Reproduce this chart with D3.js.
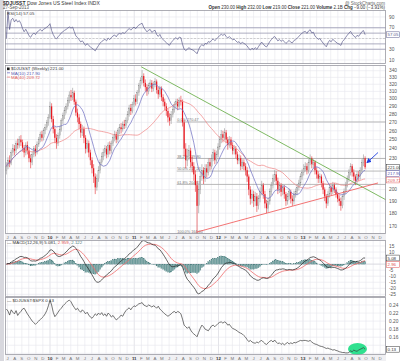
<!DOCTYPE html>
<html><head><meta charset="utf-8">
<script src="https://cdn.jsdelivr.net/npm/d3@7"></script>
<style>
body{margin:0;background:#fff}
svg{display:block;font-family:"Liberation Sans",Arial,sans-serif}
</style>
</head><body>
<svg id="c" width="400" height="361"></svg>
<script>
// ---------- DATA (weekly, Friday dates starting 2009-06-26) ----------
const startDate = "2009-06-26";
const closes = [222,228,225,236,240,238,246,244,250,247,
241,236,244,238,230,226,234,240,236,245,
250,256,252,260,264,270,276,290,274,262,
252,246,255,262,272,278,285,290,298,305,
302,308,296,282,276,268,258,262,252,240,
246,236,228,220,212,202,210,218,226,232,
236,240,234,244,238,246,252,256,250,260,
264,262,268,266,272,280,288,284,292,300,
296,308,318,325,332,322,316,310,318,322,
314,320,324,312,306,314,302,296,290,284,
276,272,280,286,292,296,290,298,296,270,
240,228,232,238,226,222,214,204,186,200,
212,218,210,220,216,226,222,230,236,228,
234,242,250,256,252,258,250,244,250,244,
238,240,234,228,230,222,226,222,218,212,
200,192,196,190,194,186,192,198,204,196,
188,184,190,198,204,210,214,208,200,204,
198,202,196,190,194,198,192,190,196,198,
202,206,212,216,220,222,218,226,230,224,
226,218,214,210,212,206,200,194,188,196,
202,198,204,200,196,192,190,186,194,198,
204,210,216,222,216,212,208,214,212,218,
226,230,221];
const opens = [218,222,228,225,236,240,238,246,244,250,
247,241,236,244,238,230,226,234,240,236,
245,250,256,252,260,264,270,276,290,274,
262,252,246,255,262,272,278,285,290,298,
305,302,308,296,282,276,268,258,262,252,
240,246,236,228,220,212,202,210,218,226,
232,236,240,234,244,238,246,252,256,250,
260,264,262,268,266,272,280,288,284,292,
300,296,308,318,325,332,322,316,310,318,
322,314,320,324,312,306,314,302,296,290,
284,276,272,280,286,292,296,290,298,296,
270,240,228,232,238,226,222,214,204,186,
200,212,218,210,220,216,226,222,230,236,
228,234,242,250,256,252,258,250,244,250,
244,238,240,234,228,230,222,226,222,218,
212,200,192,196,190,194,186,192,198,204,
196,188,184,190,198,204,210,214,208,200,
204,198,202,196,190,194,198,192,190,196,
198,202,206,212,216,220,222,218,226,230,
224,226,218,214,210,212,206,200,194,188,
196,202,198,204,200,196,192,190,186,194,
198,204,210,216,222,216,212,208,214,212,
218,226,230];
const highs = [226,231,233,239,245,244,249,251,254,255,
250,244,247,248,241,234,237,243,244,248,
253,259,260,263,268,273,280,296,294,278,
265,256,258,266,275,282,289,294,302,310,
312,315,311,299,287,280,271,267,265,255,
250,249,239,231,224,215,214,222,229,236,
240,244,243,247,248,249,255,260,259,263,
268,269,271,273,276,284,292,293,296,305,
306,312,322,330,341,336,327,320,322,327,
326,324,329,327,316,318,317,306,300,294,
287,281,284,290,296,300,300,302,304,299,
273,246,240,244,241,232,226,218,208,204,
216,224,221,224,224,230,230,234,240,239,
238,246,254,261,260,263,261,253,254,253,
247,244,243,237,234,233,229,229,225,221,
214,203,200,199,198,197,195,202,208,206,
199,191,193,201,207,214,218,217,211,207,
206,205,204,198,197,201,200,195,199,201,
205,209,215,219,224,226,225,229,234,232,
229,228,221,217,215,214,208,202,196,199,
205,204,207,206,202,198,195,193,196,201,
207,213,219,225,224,219,214,217,217,221,
229,234,232];
const lows = [214,219,221,223,232,233,235,240,241,243,
237,231,233,234,226,220,223,231,232,234,
242,247,248,249,256,261,266,274,270,257,
246,240,243,251,259,268,274,281,286,294,
297,298,292,278,270,262,252,254,246,235,
236,231,223,215,206,196,199,207,215,223,
228,232,230,231,234,235,243,248,246,247,
256,257,259,262,263,269,277,279,281,289,
291,293,304,314,321,317,310,304,306,314,
309,310,316,307,300,302,297,290,285,278,
270,266,268,276,282,288,285,287,291,265,
232,220,222,228,221,216,208,198,164,180,
196,208,205,207,211,213,218,219,227,224,
225,231,239,246,247,249,246,239,241,240,
234,234,230,224,224,218,219,218,213,207,
195,187,188,185,186,181,183,189,195,192,
184,180,181,187,195,201,207,204,196,197,
194,195,192,186,187,191,188,186,187,193,
195,199,203,209,213,217,214,215,223,220,
220,214,210,206,206,202,196,190,184,186,
193,195,196,197,193,189,186,182,184,191,
196,202,207,213,212,208,204,205,208,209,
215,222,219];
// $DJUSST:$SPX ratio, weekly
const ratio = [0.23,0.225,0.215,0.228,0.222,0.218,0.226,0.214,0.22,
0.224,0.23,0.232,
0.225,0.218,0.212,0.206,0.2,0.196,0.192,
0.196,0.2,0.204,0.208,
0.212,0.218,0.226,0.238,0.252,
0.24,0.222,0.211,
0.216,0.222,0.228,0.232,0.238,
0.242,0.246,0.25,0.252,0.248,
0.24,0.234,0.228,0.232,0.226,0.222,0.228,0.224,0.218,0.222,0.215,0.21,
0.207,0.212,
0.218,0.214,0.22,0.216,0.221,0.214,0.218,0.212,0.22,0.216,0.21,0.214,0.208,
0.203,0.206,0.21,
0.215,0.212,0.22,0.226,0.23,0.233,
0.228,0.234,0.238,0.236,0.24,0.243,0.244,0.246,0.24,0.238,
0.236,0.24,0.238,0.235,0.238,0.236,0.232,0.237,0.23,0.226,
0.222,0.218,0.215,0.212,
0.215,0.218,0.222,0.224,0.22,0.224,
0.222,0.218,0.205,0.19,0.186,0.182,
0.186,0.178,0.172,0.168,0.165,0.161,
0.172,0.182,0.19,0.186,0.18,0.178,
0.176,0.182,0.188,0.19,0.186,0.19,
0.194,0.197,0.198,0.195,0.198,0.196,0.19,
0.192,0.186,0.182,0.18,0.178,0.175,0.172,0.17,0.168,
0.164,0.16,0.154,0.149,0.152,0.148,
0.146,0.145,0.148,0.146,0.15,0.152,
0.148,0.144,0.142,0.146,0.15,0.152,0.148,0.153,0.148,0.144,0.146,0.142,0.145,0.141,0.144,0.147,0.143,0.146,0.144,0.147,0.146,0.148,
0.15,0.152,0.151,0.152,0.152,0.151,0.15,0.152,0.148,0.145,
0.143,0.142,0.14,0.138,0.137,0.136,0.134,0.132,0.133,0.131,0.13,0.128,0.129,0.127,0.126,0.124,0.123,0.122,0.122,0.121,
0.121,0.122,0.126,0.124,0.128,0.126,0.125,0.128,0.13,0.132,0.134,0.13];

const monthLetters = ["J","F","M","A","M","J","J","A","S","O","N","D"];
const priceTicks = [170,180,190,200,210,220,230,240,250,260,270,280,290,300,310,320,330,340,350];
const rsiTicks = [10,30,50,70,90];
const rsiLines = [30,40,60,70];
const macdTicks = [-25,-20,-15,-10,-5,0,5,10,15];
const ratioTicks = [0.12,0.14,0.16,0.18,0.20,0.22,0.24];
const fibLow = 164, fibHigh = 270.47, fibStart = "2011-07-04";
const fibLevels = [0, 0.382, 0.5, 0.618, 1];
const greenTrend = [["2011-01-31", 346], ["2013-12-27", 191]];
const redTrend = [["2011-09-30", 165.5], ["2013-11-22", 206]];
const arrowPts = [["2013-11-22", 236], ["2013-10-05", 225.5]];
const highlight = {date: "2013-08-25", value: 0.1307};

// ---------- helpers ----------
const parse = d3.utcParse("%Y-%m-%d");
const t0 = parse(startDate);
const N = closes.length;
const dates = d3.range(N).map(i => d3.utcDay.offset(t0, 7 * i));
const idx = d3.range(N);

function sma(a, n) { return a.map((_, i) => d3.mean(a.slice(Math.max(0, i - n + 1), i + 1))); }
function ema(a, n) { const k = 2 / (n + 1); const o = [a[0]]; for (let i = 1; i < a.length; i++) o.push(o[i-1] + k * (a[i] - o[i-1])); return o; }
function rsiCalc(a, n) {
  const o = [50]; let ag = 0, al = 0;
  for (let i = 1; i < a.length; i++) {
    const ch = a[i] - a[i-1], g = Math.max(ch, 0), l = Math.max(-ch, 0);
    if (i <= n) { ag = (ag * (i - 1) + g) / i; al = (al * (i - 1) + l) / i; }
    else { ag = (ag * (n - 1) + g) / n; al = (al * (n - 1) + l) / n; }
    o.push(al === 0 ? 100 : 100 - 100 / (1 + ag / al));
  }
  return o;
}
const ma10 = sma(closes, 10), ma40 = sma(closes, 40);
const rsi = rsiCalc(closes, 14);
const e12 = ema(closes, 12), e26 = ema(closes, 26);
const macd = e12.map((v, i) => v - e26[i]);
const signal = ema(macd, 9);
const hist = macd.map((v, i) => v - signal[i]);

// ---------- layout ----------
const L = 5, R = 386;
const P = {rsi: [10, 64], main: [65, 234], macd: [240, 297], ratio: [297, 355]};
const x = d3.scaleUtc().domain([parse("2010-01-01"), parse("2013-01-01")]).range([50, 303]);
const yR = d3.scaleLinear().domain([10, 90]).range([60, 17]);
const yP = d3.scaleLog().domain([170, 340]).range([226, 70.7]);
const yM = d3.scaleLinear().domain([-20, 15]).range([288.3, 246]);
const yQ = d3.scaleLinear().domain([0.12, 0.24]).range([353.3, 305]);

const svg = d3.select("#c");
const defs = svg.append("defs");
defs.append("marker").attr("id", "ah").attr("viewBox", "0 0 6 6").attr("refX", 5).attr("refY", 3)
  .attr("markerWidth", 5).attr("markerHeight", 5).attr("markerUnits", "userSpaceOnUse").attr("orient", "auto")
  .append("path").attr("d", "M0,0L6,3L0,6z").attr("fill", "#1f3fe0");

svg.append("rect").attr("width", 400).attr("height", 361).attr("fill", "#fff");
svg.append("rect").attr("x", 0).attr("y", 0).attr("width", 4).attr("height", 361).attr("fill", "#d8d8de");

const months = d3.utcMonth.range(parse("2009-07-01"), parse("2014-01-01"));

function panel(name, [top, bottom]) {
  defs.append("clipPath").attr("id", "clip-" + name).append("rect")
    .attr("x", L).attr("y", top).attr("width", R - L).attr("height", bottom - top);
  const g = svg.append("g");
  g.append("rect").attr("x", L).attr("y", top).attr("width", R - L).attr("height", bottom - top)
    .attr("fill", "#fff");
  g.append("g").selectAll("line").data(months).join("line")
    .attr("x1", d => x(d)).attr("x2", d => x(d)).attr("y1", top).attr("y2", bottom)
    .attr("stroke", d => d.getUTCMonth() === 0 ? "#d2d2da" : "#e6e6ec").attr("stroke-width", 0.6);
  const c = g.append("g").attr("clip-path", `url(#clip-${name})`);
  return {g, c, top, bottom};
}
function frame(p) {
  svg.append("rect").attr("x", L + 0.5).attr("y", p.top + 0.5).attr("width", R - L - 1).attr("height", p.bottom - p.top - 1)
    .attr("fill", "none").attr("stroke", "#9a9aa2").attr("stroke-width", 0.8);
}
// value boxes stacked so they never overlap; tick labels hidden under boxes
function stackBoxes(list) {
  list.sort((a, b) => a.y - b.y);
  for (let i = 1; i < list.length; i++) if (list[i].y < list[i-1].y + 6.4) list[i].y = list[i-1].y + 6.4;
  return list;
}
function hgrid(p, ticks, scale, fmt, boxes) {
  p.c.append("g").selectAll("line").data(ticks).join("line")
    .attr("x1", L).attr("x2", R).attr("y1", d => scale(d)).attr("y2", d => scale(d))
    .attr("stroke", "#e6e6ec").attr("stroke-width", 0.6);
  const vis = ticks.filter(d => scale(d) > p.top + 1.5 && scale(d) < p.bottom - 1.5 &&
    !boxes.some(b => Math.abs(b.y - scale(d)) < 5.6));
  svg.append("g").selectAll("text").data(vis).join("text")
    .attr("x", R + 3).attr("y", d => scale(d) + 1.7).attr("font-size", 4.8).attr("fill", "#555").text(fmt);
}
function drawBoxes(list) {
  list.forEach(b => {
    svg.append("rect").attr("x", R + 0.5).attr("y", b.y - 2.9).attr("width", 13).attr("height", 5.8)
      .attr("fill", "#fff").attr("stroke", b.color).attr("stroke-width", 0.5);
    svg.append("text").attr("x", R + 1.5).attr("y", b.y + 1.6).attr("font-size", 4.4).attr("fill", b.color).text(b.txt);
  });
}
function dateStrip(y0) {
  svg.append("rect").attr("x", L).attr("y", y0).attr("width", R - L).attr("height", 6).attr("fill", "#f0f0f3");
  svg.append("g").selectAll("text").data(months).join("text")
    .attr("x", d => x(d)).attr("y", y0 + 4.8).attr("text-anchor", "middle").attr("font-size", 4.4)
    .attr("font-weight", d => d.getUTCMonth() === 0 ? "bold" : "normal")
    .attr("fill", d => d.getUTCMonth() === 0 ? "#333" : "#777")
    .text(d => d.getUTCMonth() === 0 ? d3.utcFormat("%y")(d) : monthLetters[d.getUTCMonth()]);
}
const lineGen = (ys) => d3.line().x(i => x(dates[i])).y(ys);

// ---------- header ----------
const fmt2 = d3.format(".2f");
const last = N - 1;
svg.append("text").attr("x", 3).attr("y", 4.5).attr("font-size", 5).attr("fill", "#333")
  .html(`<tspan font-weight="bold">$DJUSST</tspan> Dow Jones US Steel Index  INDX`);
svg.append("text").attr("x", 3).attr("y", 9).attr("font-size", 4.5).attr("fill", "#555").text("27-Sep-2013");
svg.append("text").attr("x", 385).attr("y", 4.5).attr("text-anchor", "end").attr("font-size", 4.5).attr("fill", "#666").text("@ StockCharts.com");
const chg = closes[last] - closes[last - 1];
svg.append("text").attr("x", 385).attr("y", 9).attr("text-anchor", "end").attr("font-size", 4.5).attr("fill", "#333")
  .html(`<tspan font-weight="bold">Open</tspan> ${fmt2(opens[last])} <tspan font-weight="bold">High</tspan> ${fmt2(highs[last])} <tspan font-weight="bold">Low</tspan> ${fmt2(lows[last])} <tspan font-weight="bold">Close</tspan> ${fmt2(closes[last])} <tspan font-weight="bold">Volume</tspan> 2.1B <tspan font-weight="bold">Chg</tspan> ${chg >= 0 ? "+" : ""}${fmt2(chg)} (${chg >= 0 ? "+" : ""}${fmt2(chg / closes[last - 1] * 100)}%)`);

// ---------- RSI panel ----------
const pR = panel("rsi", P.rsi);
const rsiBoxes = stackBoxes([{y: yR(rsi[last]), txt: fmt2(rsi[last]), color: "#5b5b8c"}]);
hgrid(pR, rsiTicks, yR, d => d, rsiBoxes);
pR.c.append("g").selectAll("line").data(rsiLines).join("line")
  .attr("x1", L).attr("x2", R).attr("y1", d => yR(d)).attr("y2", d => yR(d))
  .attr("stroke", "#8a8aa6").attr("stroke-width", 0.7);
pR.c.append("line").attr("x1", L).attr("x2", R).attr("y1", yR(50)).attr("y2", yR(50))
  .attr("stroke", "#aaa").attr("stroke-width", 0.5).attr("stroke-dasharray", "2,1.5");
pR.c.append("path").datum(idx).attr("d", lineGen(i => yR(rsi[i]))).attr("fill", "none")
  .attr("stroke", "#5b5b8c").attr("stroke-width", 0.7);
frame(pR);
svg.append("text").attr("x", 7).attr("y", 14.5).attr("font-size", 4.4).attr("fill", "#444").text(`RSI(14) ${fmt2(rsi[last])}`);
drawBoxes(rsiBoxes);

// ---------- Main price panel ----------
const pP = panel("main", P.main);
const priceBoxes = stackBoxes([
  {y: yP(closes[last]), txt: fmt2(closes[last]), color: "#333"},
  {y: yP(ma10[last]), txt: fmt2(ma10[last]), color: "#5a5ab0"},
  {y: yP(ma40[last]), txt: fmt2(ma40[last]), color: "#e06060"}]);
hgrid(pP, priceTicks, yP, d => d, priceBoxes);
// fibonacci retracement
const fibG = pP.c.append("g");
const fx = x(parse(fibStart));
fibLevels.forEach(p => {
  const v = fibHigh - p * (fibHigh - fibLow);
  fibG.append("line").attr("x1", fx).attr("x2", R).attr("y1", yP(v)).attr("y2", yP(v))
    .attr("stroke", "#a8a8a8").attr("stroke-width", 0.8);
  fibG.append("text").attr("x", fx + 0.5).attr("y", yP(v) - 0.8).attr("font-size", 3.8).attr("fill", "#777")
    .text(`${d3.format(".1f")(p * 100)}% ${fmt2(v)}`);
});
// candles
const bw = 1.15;
pP.c.append("g").selectAll("line").data(idx).join("line")
  .attr("x1", i => x(dates[i])).attr("x2", i => x(dates[i]))
  .attr("y1", i => yP(highs[i])).attr("y2", i => yP(lows[i]))
  .attr("stroke", i => closes[i] < opens[i] ? "#e2191f" : "#8e8e8e").attr("stroke-width", 0.55);
pP.c.append("g").selectAll("rect").data(idx).join("rect")
  .attr("x", i => x(dates[i]) - bw / 2)
  .attr("y", i => yP(Math.max(opens[i], closes[i])))
  .attr("width", bw)
  .attr("height", i => Math.max(0.6, Math.abs(yP(opens[i]) - yP(closes[i]))))
  .attr("fill", i => closes[i] < opens[i] ? "#e8141c" : "#d0d0d0")
  .attr("stroke", i => closes[i] < opens[i] ? "none" : "#8a8a8a").attr("stroke-width", 0.3);
// moving averages
pP.c.append("path").datum(idx).attr("d", lineGen(i => yP(ma40[i]))).attr("fill", "none")
  .attr("stroke", "#f08a8a").attr("stroke-width", 0.75);
pP.c.append("path").datum(idx).attr("d", lineGen(i => yP(ma10[i]))).attr("fill", "none")
  .attr("stroke", "#7474c4").attr("stroke-width", 0.75);
// trendlines
const tl = d3.line().x(d => x(parse(d[0]))).y(d => yP(d[1]));
pP.c.append("path").datum(greenTrend).attr("d", tl).attr("stroke", "#5ea83c").attr("stroke-width", 0.8).attr("fill", "none");
pP.c.append("path").datum(redTrend).attr("d", tl).attr("stroke", "#f05050").attr("stroke-width", 0.8).attr("fill", "none");
pP.c.append("path").datum(arrowPts).attr("d", tl).attr("stroke", "#1f3fe0").attr("stroke-width", 0.9)
  .attr("fill", "none").attr("marker-end", "url(#ah)");
frame(pP);
// legend
const lg = svg.append("g").attr("font-size", 4.4);
lg.append("rect").attr("x", 7).attr("y", 67.5).attr("width", 2.6).attr("height", 2.6).attr("fill", "#222");
lg.append("text").attr("x", 11).attr("y", 70.2).attr("fill", "#333").text(`$DJUSST (Weekly) ${fmt2(closes[last])}`);
lg.append("line").attr("x1", 7).attr("x2", 10).attr("y1", 72.8).attr("y2", 72.8).attr("stroke", "#7474c4").attr("stroke-width", 0.8);
lg.append("text").attr("x", 11).attr("y", 74.5).attr("fill", "#5a5ab0").text(`MA(10) ${fmt2(ma10[last])}`);
lg.append("line").attr("x1", 7).attr("x2", 10).attr("y1", 77.1).attr("y2", 77.1).attr("stroke", "#f08a8a").attr("stroke-width", 0.8);
lg.append("text").attr("x", 11).attr("y", 78.8).attr("fill", "#e06060").text(`MA(40) ${fmt2(ma40[last])}`);
drawBoxes(priceBoxes);
dateStrip(P.main[1]);

// ---------- MACD panel ----------
const pM = panel("macd", P.macd);
const macdBoxes = stackBoxes([
  {y: yM(macd[last]), txt: fmt2(macd[last]), color: "#333"},
  {y: yM(signal[last]), txt: fmt2(signal[last]), color: "#e05050"}]);
hgrid(pM, macdTicks, yM, d => d, macdBoxes);
pM.c.append("line").attr("x1", L).attr("x2", R).attr("y1", yM(0)).attr("y2", yM(0)).attr("stroke", "#c8c8d0").attr("stroke-width", 0.5);
pM.c.append("g").selectAll("rect").data(idx).join("rect")
  .attr("x", i => x(dates[i]) - 0.65).attr("width", 1.3)
  .attr("y", i => Math.min(yM(0), yM(hist[i]))).attr("height", i => Math.abs(yM(hist[i]) - yM(0)))
  .attr("fill", "#6f9e9e").attr("stroke", "#4d7d7d").attr("stroke-width", 0.2);
pM.c.append("path").datum(idx).attr("d", lineGen(i => yM(signal[i]))).attr("fill", "none")
  .attr("stroke", "#f06a6a").attr("stroke-width", 0.8);
pM.c.append("path").datum(idx).attr("d", lineGen(i => yM(macd[i]))).attr("fill", "none")
  .attr("stroke", "#222").attr("stroke-width", 0.7);
frame(pM);
svg.append("text").attr("x", 7).attr("y", 244).attr("font-size", 4.4).attr("fill", "#333")
  .html(`— MACD(12,26,9) ${d3.format(".3f")(macd[last])}, <tspan fill="#e05050">${d3.format(".3f")(signal[last])}</tspan>, <tspan fill="#4d7d7d">${d3.format(".3f")(hist[last])}</tspan>`);
drawBoxes(macdBoxes);

// ---------- Ratio panel ----------
const pQ = panel("ratio", P.ratio);
const ratioBoxes = stackBoxes([{y: yQ(ratio[last]), txt: fmt2(ratio[last]), color: "#333"}]);
hgrid(pQ, ratioTicks, yQ, d => d3.format(".2f")(d), ratioBoxes);
pQ.c.append("ellipse").attr("cx", x(parse(highlight.date))).attr("cy", yQ(highlight.value))
  .attr("rx", 9.5).attr("ry", 6).attr("fill", "#2fe08f");
pQ.c.append("path").datum(idx).attr("d", lineGen(i => yQ(ratio[i]))).attr("fill", "none")
  .attr("stroke", "#3a3a3a").attr("stroke-width", 0.7);
frame(pQ);
svg.append("text").attr("x", 7).attr("y", 301.5).attr("font-size", 4.4).attr("fill", "#333")
  .text(`— $DJUSST:$SPX ${fmt2(ratio[last])}`);
drawBoxes(ratioBoxes);
dateStrip(P.ratio[1]);
</script>
</body></html>
